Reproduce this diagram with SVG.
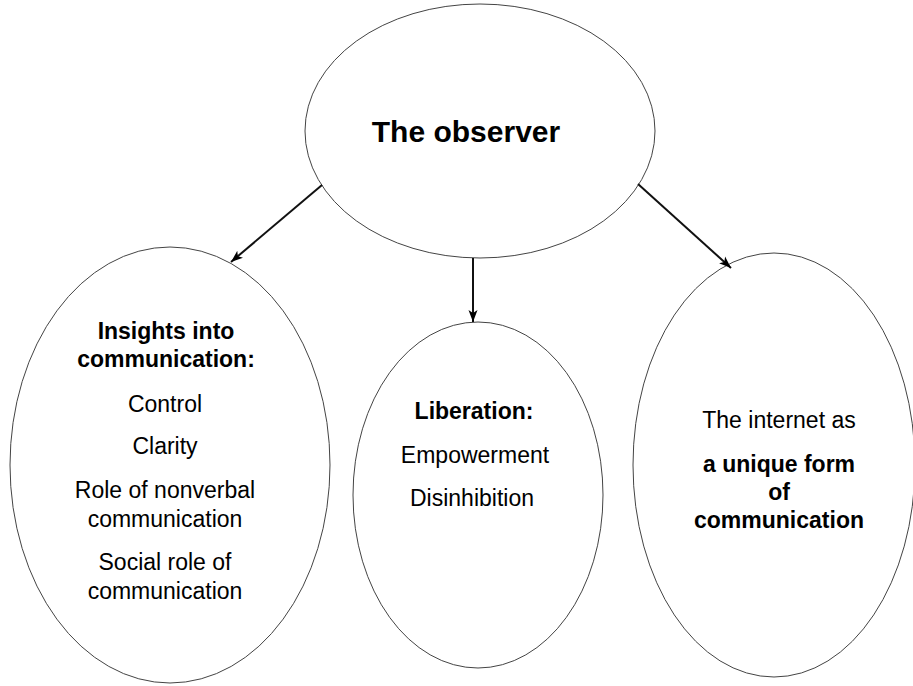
<svg xmlns="http://www.w3.org/2000/svg" width="913" height="686" viewBox="0 0 913 686">
<style>
  .node ellipse { fill: #ffffff; stroke: #444444; stroke-width: 1; }
  text { font-family: "Liberation Sans", Arial, sans-serif; fill: #000000; text-anchor: middle; }
  .t { font-size: 23px; }
  .b { font-size: 23px; font-weight: bold; }
  .title { font-size: 30px; font-weight: bold; }
  .conn line { stroke: #111111; stroke-width: 2; }
</style>
<defs>
  <marker id="arrow" markerUnits="userSpaceOnUse" markerWidth="14" markerHeight="10" refX="12" refY="5" orient="auto">
    <path d="M0,0.5 L12,5 L0,9.5 L3,5 Z" fill="#000000"/>
  </marker>
</defs>
<rect width="913" height="686" fill="#ffffff"/>
<g id="observer" class="node">
  <ellipse cx="480" cy="131" rx="175" ry="127"/>
  <text class="title" x="466" y="142">The observer</text>
</g>
<g id="insights" class="node">
  <ellipse cx="170" cy="465" rx="160" ry="218"/>
  <text class="b" x="166" y="339">Insights into</text>
  <text class="b" x="166" y="367">communication:</text>
  <text class="t" x="165" y="412">Control</text>
  <text class="t" x="165" y="454">Clarity</text>
  <text class="t" x="165" y="498">Role of nonverbal</text>
  <text class="t" x="165" y="527">communication</text>
  <text class="t" x="165" y="570">Social role of</text>
  <text class="t" x="165" y="599">communication</text>
</g>
<g id="liberation" class="node">
  <ellipse cx="478" cy="495" rx="125" ry="173"/>
  <text class="b" x="474" y="419">Liberation:</text>
  <text class="t" x="475" y="463">Empowerment</text>
  <text class="t" x="472" y="506">Disinhibition</text>
</g>
<g id="internet" class="node">
  <ellipse cx="774" cy="465" rx="141" ry="212"/>
  <text class="t" x="779" y="428">The internet as</text>
  <text class="b" x="779" y="472">a unique form</text>
  <text class="b" x="779" y="500">of</text>
  <text class="b" x="779" y="528">communication</text>
</g>
<g id="connectors" class="conn">
  <line x1="322" y1="185" x2="231" y2="262" marker-end="url(#arrow)"/>
  <line x1="473" y1="258" x2="473" y2="322" marker-end="url(#arrow)"/>
  <line x1="638" y1="184" x2="731" y2="268" marker-end="url(#arrow)"/>
</g>
</svg>
